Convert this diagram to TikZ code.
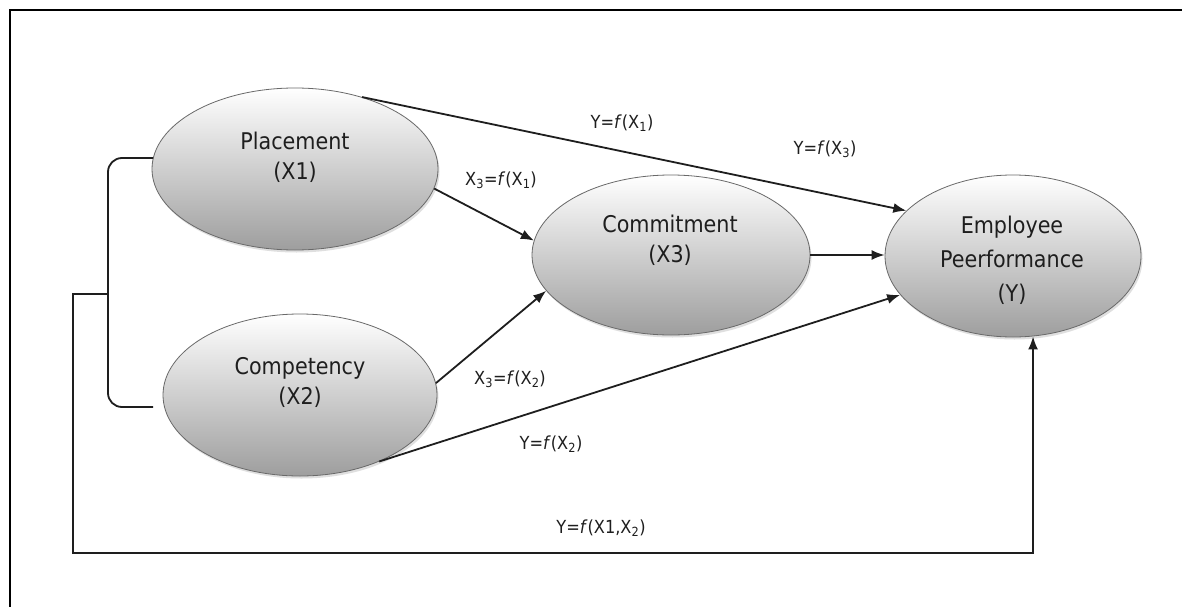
\documentclass[tikz,border=0pt]{standalone}
\usepackage{fontspec}
\setmainfont{DejaVu Sans Condensed}
\usetikzlibrary{shapes.geometric,arrows.meta,shadows,calc}
\definecolor{ellbot}{RGB}{158,158,158}
\definecolor{ellline}{RGB}{105,105,105}
\definecolor{inkc}{RGB}{30,30,30}
\begin{document}
\begin{tikzpicture}[x=1pt,y=-1pt,
  ell/.style={ellipse, draw=ellline, line width=0.8pt, top color=white, bottom color=ellbot,
    inner sep=0pt, drop shadow={shadow xshift=1.5pt, shadow yshift=-2.5pt, opacity=0.25}},
  etxt/.style={align=center, inner sep=0pt, text=inkc, font=\fontsize{23}{30}\selectfont},
  lbl/.style={inner sep=0pt, text=inkc, font=\fontsize{18}{22}\selectfont},
  conn/.style={draw=inkc, line width=1.8pt, -{Latex[length=13pt,width=10pt]}},
  plain/.style={draw=inkc, line width=1.8pt},
  frame/.style={draw=black, line width=2pt}
]
\useasboundingbox (0,0) rectangle (1182,607);
\fill[white] (0,0) rectangle (1182,607);
% frame
\coordinate (fo) at (10,10);
\draw[frame] (1182,10) -- (fo) -- (10,607);
% ellipses
\node[ell, minimum width=286pt, minimum height=162pt] (P) at (295,169) {};
\node[etxt] (Pt) at (295,157) {Placement\\(X1)};
\node[ell, minimum width=274pt, minimum height=162pt] (C2) at (300,395) {};
\node[etxt] (C2t) at (300,382) {Competency\\(X2)};
\node[ell, minimum width=278pt, minimum height=160pt] (C3) at (671,255) {};
\node[etxt] (C3t) at (670,240) {Commitment\\(X3)};
\node[ell, minimum width=256pt, minimum height=162pt] (E) at (1013,256) {};
\node[etxt, font=\fontsize{23}{34}\selectfont] (Et) at (1012,260) {Employee\\Peerformance\\(Y)};
% connectors
\draw[conn] (P.47) -- (E.157);
\draw[conn] (P.-8) -- (C3.174);
\draw[conn] (C2.5) -- (C3.196);
\draw[conn] (C2.-40) -- (E.199);
\draw[conn] (C3.east) -- (C3.east -| E.west);
% bracket and bottom loop
\coordinate (bt) at (153,158);
\coordinate (bb) at (153,407);
\coordinate (J) at (108,294);
\coordinate (L) at (73,553);
\draw[plain, rounded corners=14pt] (bt) -| (J) |- (bb);
\draw[conn] (J) -| (L) -| (E.-76);
% labels
\node[lbl] (l1) at (622,123) {Y=\textit{f}(X\textsubscript{1})};
\node[lbl] (l2) at (825,149) {Y=\textit{f}(X\textsubscript{3})};
\node[lbl] (l3) at (501,180) {X\textsubscript{3}=\textit{f}(X\textsubscript{1})};
\node[lbl] (l4) at (510,379) {X\textsubscript{3}=\textit{f}(X\textsubscript{2})};
\node[lbl] (l5) at (551,444) {Y=\textit{f}(X\textsubscript{2})};
\node[lbl] (l6) at (601,528) {Y=\textit{f}(X1,X\textsubscript{2})};
\end{tikzpicture}
\end{document}
